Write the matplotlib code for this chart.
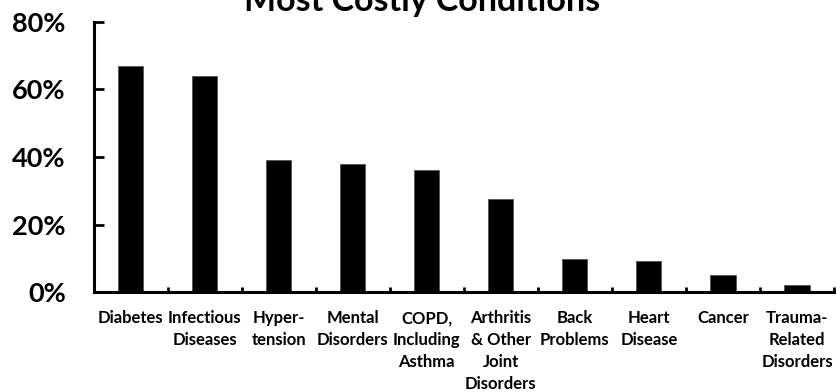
import matplotlib
matplotlib.use("Agg")
import matplotlib.pyplot as plt
from matplotlib.ticker import FixedLocator, PercentFormatter

plt.rcParams['font.family'] = ['Lato', 'DejaVu Sans']
plt.rcParams['font.weight'] = 'bold'

categories = [
    "Diabetes", "Infectious\nDiseases", "Hyper-\ntension", "Mental\nDisorders",
    "COPD,\nIncluding\nAsthma", "Arthritis\n& Other\nJoint\nDisorders",
    "Back\nProblems", "Heart\nDisease", "Cancer", "Trauma-\nRelated\nDisorders",
]
values = [66.8, 63.9, 39.0, 37.8, 36.1, 27.5, 9.8, 9.2, 5.0, 2.2]
yticks = [0, 20, 40, 60, 80]
title = "Most Costly Conditions"

W, H = 836, 392
fig = plt.figure(figsize=(W / 100, H / 100), dpi=100)
ax = fig.add_axes([93.5 / W, 1 - 292.3 / H, (834 - 93.5) / W, (292.3 - 21.5) / H])

x = list(range(len(categories)))
ax.bar(x, values, width=0.34, color='black', edgecolor='#555555', linewidth=0.6)

ax.set_xlim(-0.5, len(categories) - 0.5)
ax.set_ylim(0, 80)
ax.set_yticks(yticks)
ax.yaxis.set_major_formatter(PercentFormatter(decimals=0))

ax.set_xticks(x)
ax.set_xticklabels(categories, fontsize=12, fontweight='bold', linespacing=1.45)
for lab in ax.get_xticklabels():
    lab.set_fontstretch('expanded')
ax.xaxis.set_minor_locator(FixedLocator([i + 0.5 for i in x]))

for side in ('top', 'right'):
    ax.spines[side].set_visible(False)
for side in ('left', 'bottom'):
    ax.spines[side].set_linewidth(2.2)
    ax.spines[side].set_color('black')

ax.tick_params(axis='y', direction='in', length=7.5, width=2, pad=20,
               labelsize=19.5)
for lab in ax.get_yticklabels():
    lab.set_fontweight('bold')
ax.tick_params(axis='x', which='major', length=0, pad=13)
ax.tick_params(axis='x', which='minor', direction='in', length=3.5, width=2)

fig.text(0.505, 1 - 11 / H, title, ha='center', va='baseline',
         fontsize=24.5, fontweight='bold')

fig.savefig('out.png', dpi=100)
